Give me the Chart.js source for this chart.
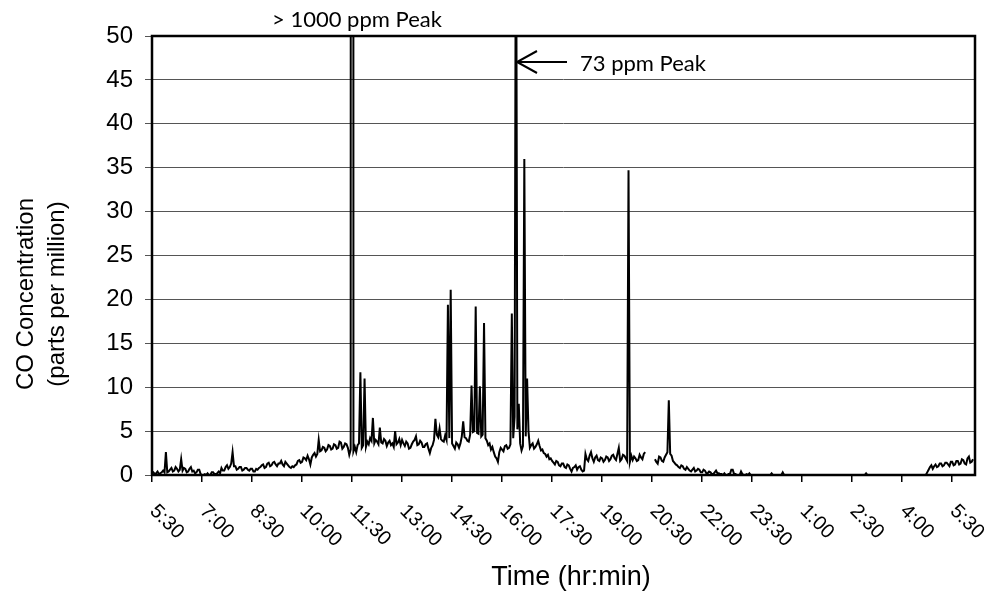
<!DOCTYPE html>
<html>
<head>
<meta charset="utf-8">
<title>CO Concentration</title>
<script src="https://cdn.jsdelivr.net/npm/chart.js@4.4.1/dist/chart.umd.min.js"></script>
<style>
  html, body { margin: 0; padding: 0; background: #fff; }
  #wrap { width: 990px; height: 594px; }
</style>
</head>
<body>
<div id="wrap"><canvas id="coChart" width="990" height="594"></canvas></div>
<script>
// CO readings, one every 2.5 minutes starting at 5:30 (null = logger gap)
const stepMinutes = 2.5;
const coValues = [
  0.2, 0.3, 0.1, 0.2, 0.4, 0.1, 0.2, 0.3, 0.5, 0.3, 2.6, 0.3, 0.4, 0.6, 0.8, 0.4, 0.5, 0.9, 0.7, 0.4,
  0.6, 1.8, 0.5, 0.8, 0.7, 0.3, 0.4, 0.7, 0.9, 0.4, 0.5, 0.2, 0.3, 0.6, 0.6, 0.1, 0, 0, 0.1, 0,
  0.2, 0, 0, 0.3, 0.3, 0.1, 0.1, 0.2, 0.4, 0.2, 0.8, 0.5, 0.5, 0.9, 1.1, 0.7, 0.9, 1.3, 2.6, 1.0,
  1.0, 0.6, 0.7, 0.9, 0.9, 0.5, 0.6, 0.8, 0.8, 0.6, 0.5, 0.7, 0.7, 0.4, 0.4, 0.7, 0.6, 0.8, 0.9, 1.1,
  1.2, 0.8, 0.9, 1.3, 1.4, 1.0, 1.1, 1.4, 1.5, 1.2, 1.0, 1.3, 1.3, 1.6, 1.2, 1.0, 1.5, 1.3, 1.1, 0.9,
  0.8, 1.0, 0.9, 1.1, 1.2, 1.6, 1.7, 1.4, 1.5, 2.0, 1.9, 1.7, 2.2, 1.8, 1.2, 2.0, 2.3, 2.5, 2.1, 2.4,
  4.0, 2.7, 2.8, 3.2, 3.1, 2.7, 2.9, 3.4, 3.3, 2.9, 3.0, 3.5, 3.4, 3.0, 3.1, 3.8, 3.7, 3.0, 3.2, 3.6,
  3.5, 3.1, 2.3, 2.9, 1050, 2.7, 3.2, 2.6, 3.4, 3.6, 11.7, 3.1, 3.4, 11.0, 3.2, 3.8, 3.5, 4.2, 3.9, 6.5,
  3.6, 4.0, 3.8, 3.5, 5.4, 3.7, 3.6, 4.1, 3.9, 3.3, 3.7, 3.9, 3.4, 3.6, 3.2, 5.0, 3.5, 3.7, 4.1, 3.4,
  4.0, 3.6, 3.3, 3.8, 3.6, 3.0, 3.1, 3.5, 3.8, 4.0, 4.4, 3.4, 3.5, 3.9, 3.7, 3.2, 3.2, 3.5, 3.6, 3.0,
  2.5, 3.1, 3.4, 4.0, 6.4, 4.6, 4.3, 5.3, 4.1, 3.9, 3.8, 4.5, 4.0, 19.4, 4.2, 21.1, 3.6, 3.3, 3.0, 3.7,
  3.5, 3.1, 3.6, 4.4, 6.1, 4.3, 4.2, 3.9, 3.8, 4.6, 10.2, 4.9, 5.0, 19.2, 4.8, 4.7, 10.1, 4.4, 4.6, 17.3,
  4.2, 3.9, 3.4, 3.6, 2.9, 3.2, 2.6, 2.1, 1.9, 1.5, 2.6, 3.1, 2.9, 2.7, 3.3, 3.4, 3.0, 3.1, 3.5, 18.4,
  4.2, 6.6, 73, 5.2, 8.1, 3.6, 2.8, 3.3, 36, 4.4, 11, 5.0, 3.1, 3.4, 3.6, 3.0, 3.2, 3.5, 3.9, 3.3,
  2.8, 2.9, 2.5, 2.4, 2.1, 2.3, 1.8, 1.9, 1.6, 1.4, 1.2, 1.6, 1.5, 1.1, 1.0, 1.3, 1.3, 0.9, 0.8, 1.2,
  1.1, 0.7, 0.4, 0.8, 0.9, 1.1, 0.6, 0.9, 1.0, 0.6, 0.4, 0.5, 2.4, 1.8, 1.6, 2.2, 2.6, 1.9, 1.5, 2.0,
  2.2, 1.7, 1.6, 2.0, 1.9, 1.5, 1.7, 2.1, 2.0, 1.6, 1.8, 2.2, 2.3, 1.9, 1.7, 2.4, 3.1, 1.6, 1.8, 2.3,
  2.2, 1.9, 1.6, 34.7, 1.5, 2.2, 1.7, 2.1, 1.9, 1.6, 1.7, 2.3, 2.0, 1.8, 2.4, 2.6, null, null, null, null,
  null, null, 1.8, 1.5, 1.3, 2.1, 2.0, 1.6, 1.5, 2.0, 2.3, 2.6, 8.5, 2.4, 2.2, 1.6, 1.4, 1.2, 1.1, 0.9,
  0.8, 1.1, 1.0, 0.7, 0.6, 0.9, 0.7, 0.5, 0.4, 0.6, 0.8, 0.4, 0.5, 0.7, 0.6, 0.3, 0.3, 0.6, 0.5, 0.2,
  0.2, 0.4, 0.3, 0.1, 0.1, 0.3, 0.5, 0.2, 0.2, 0.1, 0.1, 0, 0.2, 0, 0, 0.1, 0.1, 0.6, 0.6, 0.1,
  0.1, 0, 0, 0, 0.4, 0.1, 0, 0, 0.1, 0, 0.2, 0, 0, 0, 0, 0, 0, 0, 0, 0,
  0, 0, 0, 0, 0, 0, 0.2, 0, 0, 0, 0, 0, 0, 0, 0.3, 0, 0, 0, 0, 0,
  0, 0, 0, 0, 0, 0, 0, 0, 0, 0, 0, 0, 0, 0, 0, 0, 0, 0, 0, 0,
  0, 0, 0, 0, 0, 0, 0, 0, 0, 0, 0, 0, 0, 0, 0, 0, 0, 0, 0, 0,
  0, 0, 0, 0, 0, 0, 0, 0, 0, 0, 0, 0, 0, 0, 0.2, 0, 0, 0, 0, 0,
  0, 0, 0, 0, 0, 0, 0, 0, 0, 0, 0, 0, 0, 0, 0, 0, 0, 0, 0, 0,
  0, 0, 0, 0, 0, 0, 0, 0, 0, 0, 0, 0, 0, 0, 0, 0, 0, 0, 0.3, 0.6,
  0.9, 1.1, 0.7, 1.0, 1.2, 0.9, 1.0, 1.3, 1.3, 1.0, 1.1, 1.4, 1.4, 1.2, 1.0, 1.5, 1.5, 1.1, 1.2, 1.6,
  1.6, 1.2, 1.3, 1.8, 1.7, 1.3, 1.2, 1.9, 2.1, 1.4, 1.5, 1.8
];

// x axis: minutes after 5:30
const tickMinutes = [0, 90, 180, 270, 360, 450, 540, 630, 720, 810, 900, 990, 1080, 1170, 1260, 1350, 1440];
const tickLabels = ['5:30', '7:00', '8:30', '10:00', '11:30', '13:00', '14:30', '16:00', '17:30',
  '19:00', '20:30', '22:00', '23:30', '1:00', '2:30', '4:00', '5:30'];
const yTicks = [0, 5, 10, 15, 20, 25, 30, 35, 40, 45, 50];

const coPoints = coValues.map((v, i) => ({ x: i * stepMinutes, y: v }));
const peakHighIndex = coValues.indexOf(1050);
const peak73Index = coValues.indexOf(73);

const axisFont = '"Liberation Sans", Arial, sans-serif';

// frame, rotated time labels, axis titles and the peak notes
const chartDecor = {
  id: 'chartDecor',
  afterDatasetsDraw(chart) {
    const { ctx, chartArea: a, scales: { x } } = chart;
    ctx.save();
    ctx.strokeStyle = '#000';
    ctx.lineWidth = 2.5;
    ctx.strokeRect(a.left, a.top, a.right - a.left, a.bottom - a.top);

    ctx.fillStyle = '#000';
    ctx.font = '20px ' + axisFont;
    ctx.textAlign = 'left';
    ctx.textBaseline = 'alphabetic';
    tickMinutes.forEach((m, i) => {
      ctx.save();
      ctx.translate(x.getPixelForValue(m) - 3, a.bottom + 37);
      ctx.rotate(Math.PI / 4);
      ctx.fillText(tickLabels[i], 0, 0);
      ctx.restore();
    });

    ctx.font = '27px ' + axisFont;
    ctx.textAlign = 'center';
    ctx.fillText('Time (hr:min)', 571, 585);

    ctx.save();
    ctx.translate(26, 294);
    ctx.rotate(-Math.PI / 2);
    ctx.font = '24px ' + axisFont;
    ctx.textBaseline = 'middle';
    ctx.fillText('CO Concentration', 0, 0);
    ctx.fillText('(parts per million)', 0, 31);
    ctx.restore();

    // notes
    const xHigh = x.getPixelForValue(peakHighIndex * stepMinutes);
    const x73 = x.getPixelForValue(peak73Index * stepMinutes);
    ctx.font = '22px Lato, "Open Sans", sans-serif';
    ctx.textAlign = 'left';
    ctx.textBaseline = 'alphabetic';
    ctx.fillText('> 1000 ppm Peak', xHigh - 80, 27);
    ctx.fillText('73 ppm Peak', x73 + 64, 71);

    ctx.lineWidth = 2;
    ctx.beginPath();
    ctx.moveTo(x73 + 51, 62);
    ctx.lineTo(x73 + 1, 62);
    ctx.moveTo(x73 + 21, 51);
    ctx.lineTo(x73 + 1, 62);
    ctx.lineTo(x73 + 21, 73);
    ctx.stroke();
    ctx.restore();
  }
};

new Chart(document.getElementById('coChart'), {
  type: 'line',
  data: {
    datasets: [{
      label: 'CO',
      data: coPoints,
      borderColor: '#000',
      borderWidth: 2,
      pointRadius: 0,
      tension: 0,
      spanGaps: false
    }]
  },
  options: {
    responsive: false,
    animation: false,
    layout: { padding: { top: 36, right: 15, left: 0, bottom: 0 } },
    plugins: {
      legend: { display: false },
      tooltip: { enabled: false }
    },
    scales: {
      x: {
        type: 'linear',
        min: 0,
        max: 1481,
        afterBuildTicks: (scale) => { scale.ticks = tickMinutes.map(v => ({ value: v })); },
        afterFit: (scale) => { scale.height = 119; },
        ticks: { display: false },
        grid: { drawOnChartArea: false, drawTicks: true, tickLength: 7, color: '#000', lineWidth: 1.5 },
        border: { display: false }
      },
      y: {
        min: 0,
        max: 50,
        afterBuildTicks: (scale) => { scale.ticks = yTicks.map(v => ({ value: v })); },
        afterFit: (scale) => { scale.width = 152; },
        ticks: {
          color: '#000',
          padding: 12,
          font: { family: 'Liberation Sans', size: 24 }
        },
        grid: { color: '#555', lineWidth: 1, tickLength: 7 },
        border: { display: false }
      }
    }
  },
  plugins: [chartDecor]
});
</script>
</body>
</html>
